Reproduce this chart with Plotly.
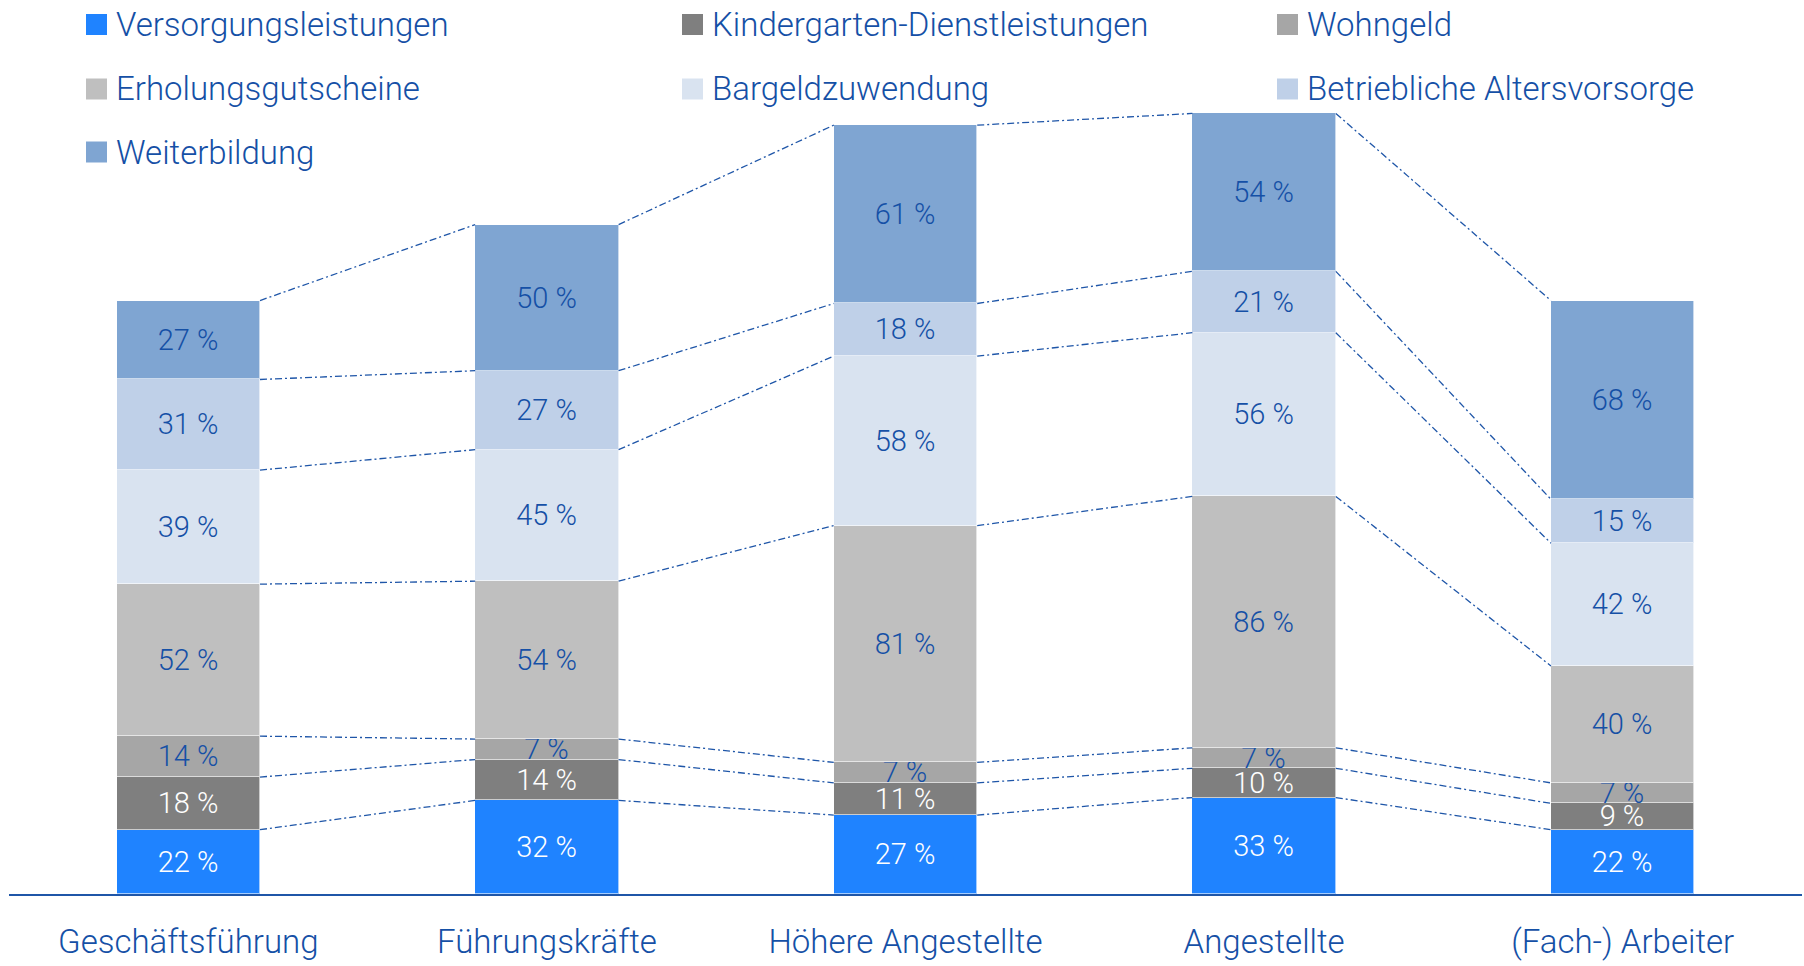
import plotly.graph_objects as go

categories = ["Geschäftsführung", "Führungskräfte", "Höhere Angestellte", "Angestellte", "(Fach-) Arbeiter"]
series_names = ["Versorgungsleistungen", "Kindergarten-Dienstleistungen", "Wohngeld",
                "Erholungsgutscheine", "Bargeldzuwendung", "Betriebliche Altersvorsorge", "Weiterbildung"]
versorgung = [22, 32, 27, 33, 22]
kindergarten = [18, 14, 11, 10, 9]
wohngeld = [14, 7, 7, 7, 7]
erholung = [52, 54, 81, 86, 40]
bargeld = [39, 45, 58, 56, 42]
altersvorsorge = [31, 27, 18, 21, 15]
weiterbildung = [27, 50, 61, 54, 68]
series_values = [versorgung, kindergarten, wohngeld, erholung, bargeld, altersvorsorge, weiterbildung]

colors = ["#1f83ff", "#7f7f7f", "#a6a6a6", "#bfbfbf", "#d9e3f0", "#bfd0e8", "#7fa5d2"]
label_colors = ["#ffffff", "#ffffff", "#1550a6", "#1550a6", "#1550a6", "#1550a6", "#1550a6"]
TXT = "#1550a6"
FONT = "Roboto"

W, H = 1804, 966
ML, MR, MT, MB = 9, 2, 17, 72
YMAX = 300
BW = 0.4

x = list(range(len(categories)))
fig = go.Figure()

for name, vals, col, lc in zip(series_names, series_values, colors, label_colors):
    fig.add_trace(go.Bar(
        x=x, y=vals, name=name, width=BW,
        marker=dict(color=col, line=dict(color="rgba(255,255,255,0.6)", width=1)),
        text=[f"{v} %" for v in vals], textposition="inside", insidetextanchor="middle",
        textangle=0, constraintext="none",
        textfont=dict(family=FONT, size=29, color=lc, weight=300),
        showlegend=False, hoverinfo="skip",
    ))

# connector lines between segment tops
cums = []
for i in range(len(categories)):
    s = 0
    c = []
    for vals in series_values:
        s += vals[i]
        c.append(s)
    cums.append(c)
lx, ly = [], []
for i in range(len(categories) - 1):
    for k in range(len(series_values)):
        lx += [i + BW / 2, i + 1 - BW / 2, None]
        ly += [cums[i][k], cums[i + 1][k], None]
fig.add_trace(go.Scatter(x=lx, y=ly, mode="lines",
                         line=dict(color="#1f56a8", width=1.3, dash="7px,3px,2px,3px"),
                         showlegend=False, hoverinfo="skip"))

# legend drawn manually
pw = W - ML - MR
ph = H - MT - MB
def px2x(p):
    return (p - ML) / pw
def px2y(p):
    return (H - MB - p) / ph

col_x = [86, 682, 1277]
row_y = [24.5, 89, 152]
SQ = 21
for idx, (name, col) in enumerate(zip(series_names, colors)):
    r, c = divmod(idx, 3)
    cx, cy = col_x[c], row_y[r]
    fig.add_shape(type="rect", xref="paper", yref="paper",
                  x0=px2x(cx), x1=px2x(cx + SQ), y0=px2y(cy + SQ / 2), y1=px2y(cy - SQ / 2),
                  fillcolor=col, line=dict(width=0))
    fig.add_annotation(xref="paper", yref="paper", x=px2x(cx + SQ + 7), y=px2y(cy),
                       xanchor="left", yanchor="middle", text=name, showarrow=False,
                       font=dict(family=FONT, size=33, color=TXT, weight=300))

fig.update_layout(
    width=W, height=H,
    margin=dict(l=ML, r=MR, t=MT, b=MB),
    barmode="stack", bargap=0,
    plot_bgcolor="white", paper_bgcolor="white",
    font=dict(family=FONT, color=TXT),
    uniformtext=dict(minsize=29, mode="show"),
    xaxis=dict(range=[-0.5, len(categories) - 0.5], tickvals=x, ticktext=categories,
               showgrid=False, zeroline=False, showline=True, linecolor="#1f56a8", linewidth=2,
               ticks="", ticklabelstandoff=17,
               tickfont=dict(family=FONT, size=33, color=TXT, weight=300)),
    yaxis=dict(range=[0, YMAX], visible=False, showgrid=False, zeroline=False),
)

fig.write_html("out.html", config={"displayModeBar": False},
               post_script="document.body.style.margin='0px';")
